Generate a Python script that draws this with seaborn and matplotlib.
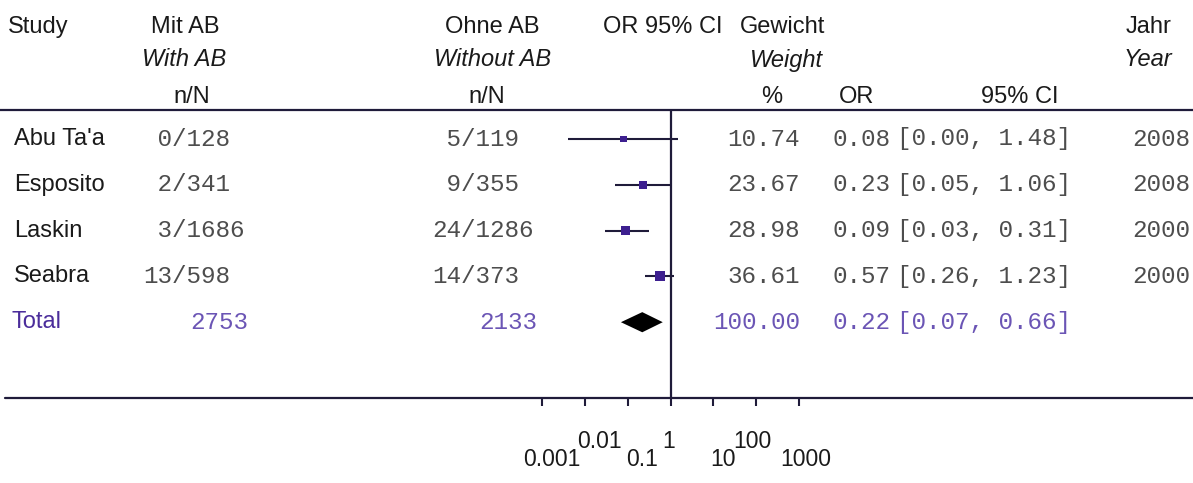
"""
Forest plot: Antibiotikaprophylaxe (mit / ohne AB), Odds Ratio mit 95%-KI.
"""

import matplotlib

matplotlib.use("Agg")

import matplotlib.pyplot as plt
import matplotlib.transforms as mtransforms
import numpy as np
import pandas as pd
import seaborn as sns
from matplotlib.lines import Line2D

# ---- Daten ----
STUDIES = ["Abu Ta'a", "Esposito", "Laskin", "Seabra"]
EVENTS_AB = [0, 2, 3, 13]
TOTAL_AB = [128, 341, 1686, 598]
EVENTS_NO = [5, 9, 24, 14]
TOTAL_NO = [119, 355, 1286, 373]
WEIGHTS = [10.74, 23.67, 28.98, 36.61]
ODDS = [0.08, 0.23, 0.09, 0.57]
CI_LOW = [0.004, 0.05, 0.03, 0.26]
CI_HIGH = [1.48, 1.06, 0.31, 1.23]
YEARS = [2008, 2008, 2000, 2000]

POOLED_LABEL = "Total"
POOLED_WEIGHT = 100.00
POOLED_OR = 0.22
POOLED_LOW = 0.07
POOLED_HIGH = 0.66

TICK_VALUES = [0.001, 0.01, 0.1, 1, 10, 100, 1000]
TICK_LABELS = ["0.001", "0.01", "0.1", "1", "10", "100", "1000"]

# ---- Layout (Pixel) ----
W, H = 1193, 483
ROW0, ROW_STEP = 139, 45.8
HEADER_LINE, AXIS_LINE = 110, 398
AX_LEFT, AX_RIGHT = 541.7, 799.3
# horizontale Verschiebung der Achsenbeschriftungen wie im Original (px)
TICK_SHIFT = [10, 15, 14, -2, 10, -4, 6]

SANS = "Liberation Sans"
MONO = "Liberation Mono"
INK = "#1a1a1a"
NUM_GRAY = "#4d4d4d"
LINE_NAVY = "#1f1b3a"
MARKER = "#3d1f8f"
TOTAL_LABEL = "#4b2d9b"
TOTAL_NUM = "#6b55b5"
SANS_SIZE = 17
MONO_SIZE = 17.5


def fx(px):
    return px / W


def fy(py):
    return 1 - py / H


def row_px(i):
    return ROW0 + ROW_STEP * i


def main():
    sns.set_theme(style="white")
    plt.rcParams["font.family"] = [SANS, "DejaVu Sans"]

    fig = plt.figure(figsize=(W / 100, H / 100), dpi=100)
    fig.patch.set_facecolor("white")

    def txt(x, y, s, ha="left", font=SANS, size=None, color=INK, style="normal"):
        fig.text(fx(x), fy(y), s, ha=ha, va="center", family=font,
                 fontsize=size or (SANS_SIZE if font == SANS else MONO_SIZE),
                 color=color, style=style)

    # Kopfzeilen
    txt(8, 27, "Study")
    txt(185, 27, "Mit AB", ha="center")
    txt(184, 60, "With AB", ha="center", style="italic")
    txt(192, 97, "n/N", ha="center")
    txt(492, 27, "Ohne AB", ha="center")
    txt(493, 60, "Without AB", ha="center", style="italic")
    txt(487, 97, "n/N", ha="center")
    txt(663, 27, "OR 95% CI", ha="center")
    txt(740, 27, "Gewicht")
    txt(823, 60, "Weight", ha="right", style="italic")
    txt(772, 97, "%", ha="center")
    txt(857, 97, "OR", ha="center")
    txt(1020, 97, "95% CI", ha="center")
    txt(1171, 27, "Jahr", ha="right")
    txt(1172, 60, "Year", ha="right", style="italic")

    # Studienzeilen
    for i, name in enumerate(STUDIES):
        y = row_px(i)
        txt(14, y, name)
        txt(143, y, f"{EVENTS_AB[i]:>2}/{TOTAL_AB[i]}", font=MONO, color=NUM_GRAY)
        txt(432, y, f"{EVENTS_NO[i]:>2}/{TOTAL_NO[i]}", font=MONO, color=NUM_GRAY)
        txt(800, y, f"{WEIGHTS[i]:.2f}", ha="right", font=MONO, color=NUM_GRAY)
        txt(890, y, f"{ODDS[i]:.2f}", ha="right", font=MONO, color=NUM_GRAY)
        txt(897, y, f"[{CI_LOW[i]:.2f}, {CI_HIGH[i]:.2f}]", font=MONO, color=NUM_GRAY)
        txt(1190, y, f"{YEARS[i]}", ha="right", font=MONO, color=NUM_GRAY)

    k = len(STUDIES)
    y = row_px(k)
    txt(12, y, POOLED_LABEL, color=TOTAL_LABEL)
    txt(248, y, f"{sum(TOTAL_AB)}", ha="right", font=MONO, color=TOTAL_NUM)
    txt(537, y, f"{sum(TOTAL_NO)}", ha="right", font=MONO, color=TOTAL_NUM)
    txt(800, y, f"{POOLED_WEIGHT:.2f}", ha="right", font=MONO, color=TOTAL_NUM)
    txt(890, y, f"{POOLED_OR:.2f}", ha="right", font=MONO, color=TOTAL_NUM)
    txt(897, y, f"[{POOLED_LOW:.2f}, {POOLED_HIGH:.2f}]", font=MONO, color=TOTAL_NUM)

    # Trennlinien
    fig.add_artist(Line2D([0, 1], [fy(HEADER_LINE)] * 2, color=LINE_NAVY, lw=1.6))
    fig.add_artist(Line2D([fx(5), 1], [fy(AXIS_LINE)] * 2, color=LINE_NAVY, lw=1.6))

    # Forest-Plot
    ax = fig.add_axes([fx(AX_LEFT), fy(AXIS_LINE), fx(AX_RIGHT - AX_LEFT),
                       (AXIS_LINE - HEADER_LINE) / H])
    ax.set_facecolor("none")
    ax.set_xscale("log")
    ax.set_xlim(TICK_VALUES[0], TICK_VALUES[-1])
    ax.set_ylim((AXIS_LINE - ROW0) / ROW_STEP, (HEADER_LINE - ROW0) / ROW_STEP)
    for sp in ax.spines.values():
        sp.set_visible(False)

    df = pd.DataFrame({"row": np.arange(k), "odds": ODDS, "lo": CI_LOW,
                       "hi": CI_HIGH, "weight": WEIGHTS})
    ax.hlines(df["row"], df["lo"], df["hi"], color=LINE_NAVY, lw=1.5, zorder=2)
    sns.scatterplot(data=df, x="odds", y="row", size="weight",
                    sizes=(20, 52), size_norm=(min(WEIGHTS), max(WEIGHTS)),
                    marker="s", color=MARKER, edgecolor="none", legend=False,
                    ax=ax, zorder=3)

    h = 0.22
    ax.fill([POOLED_LOW, POOLED_OR, POOLED_HIGH, POOLED_OR],
            [k, k - h, k, k + h], color="black", lw=0, zorder=3)

    ax.axvline(1, color=LINE_NAVY, lw=1.6, zorder=1)

    ax.set_xticks(TICK_VALUES)
    ax.xaxis.set_minor_locator(matplotlib.ticker.NullLocator())
    ax.set_xticklabels([])
    ax.set_yticks([])
    ax.set_xlabel("")
    ax.set_ylabel("")
    ax.tick_params(axis="x", direction="out", length=6, width=1.5,
                   color=LINE_NAVY, bottom=True)

    # gestaffelte Beschriftung (zwei Zeilen) wie im Original
    trans = mtransforms.blended_transform_factory(ax.transData, ax.transAxes)
    span = AXIS_LINE - HEADER_LINE
    for j, (v, lab) in enumerate(zip(TICK_VALUES, TICK_LABELS)):
        ypx = 441 if j % 2 == 1 else 460
        shift = mtransforms.ScaledTranslation(TICK_SHIFT[j] / 100, 0,
                                              fig.dpi_scale_trans)
        ax.text(v, -(ypx - AXIS_LINE) / span, lab, transform=trans + shift,
                ha="center", va="center", family=SANS, fontsize=16.5, color=INK)

    plt.savefig("out.png", dpi=100, facecolor="white")
    plt.close()


if __name__ == "__main__":
    main()
